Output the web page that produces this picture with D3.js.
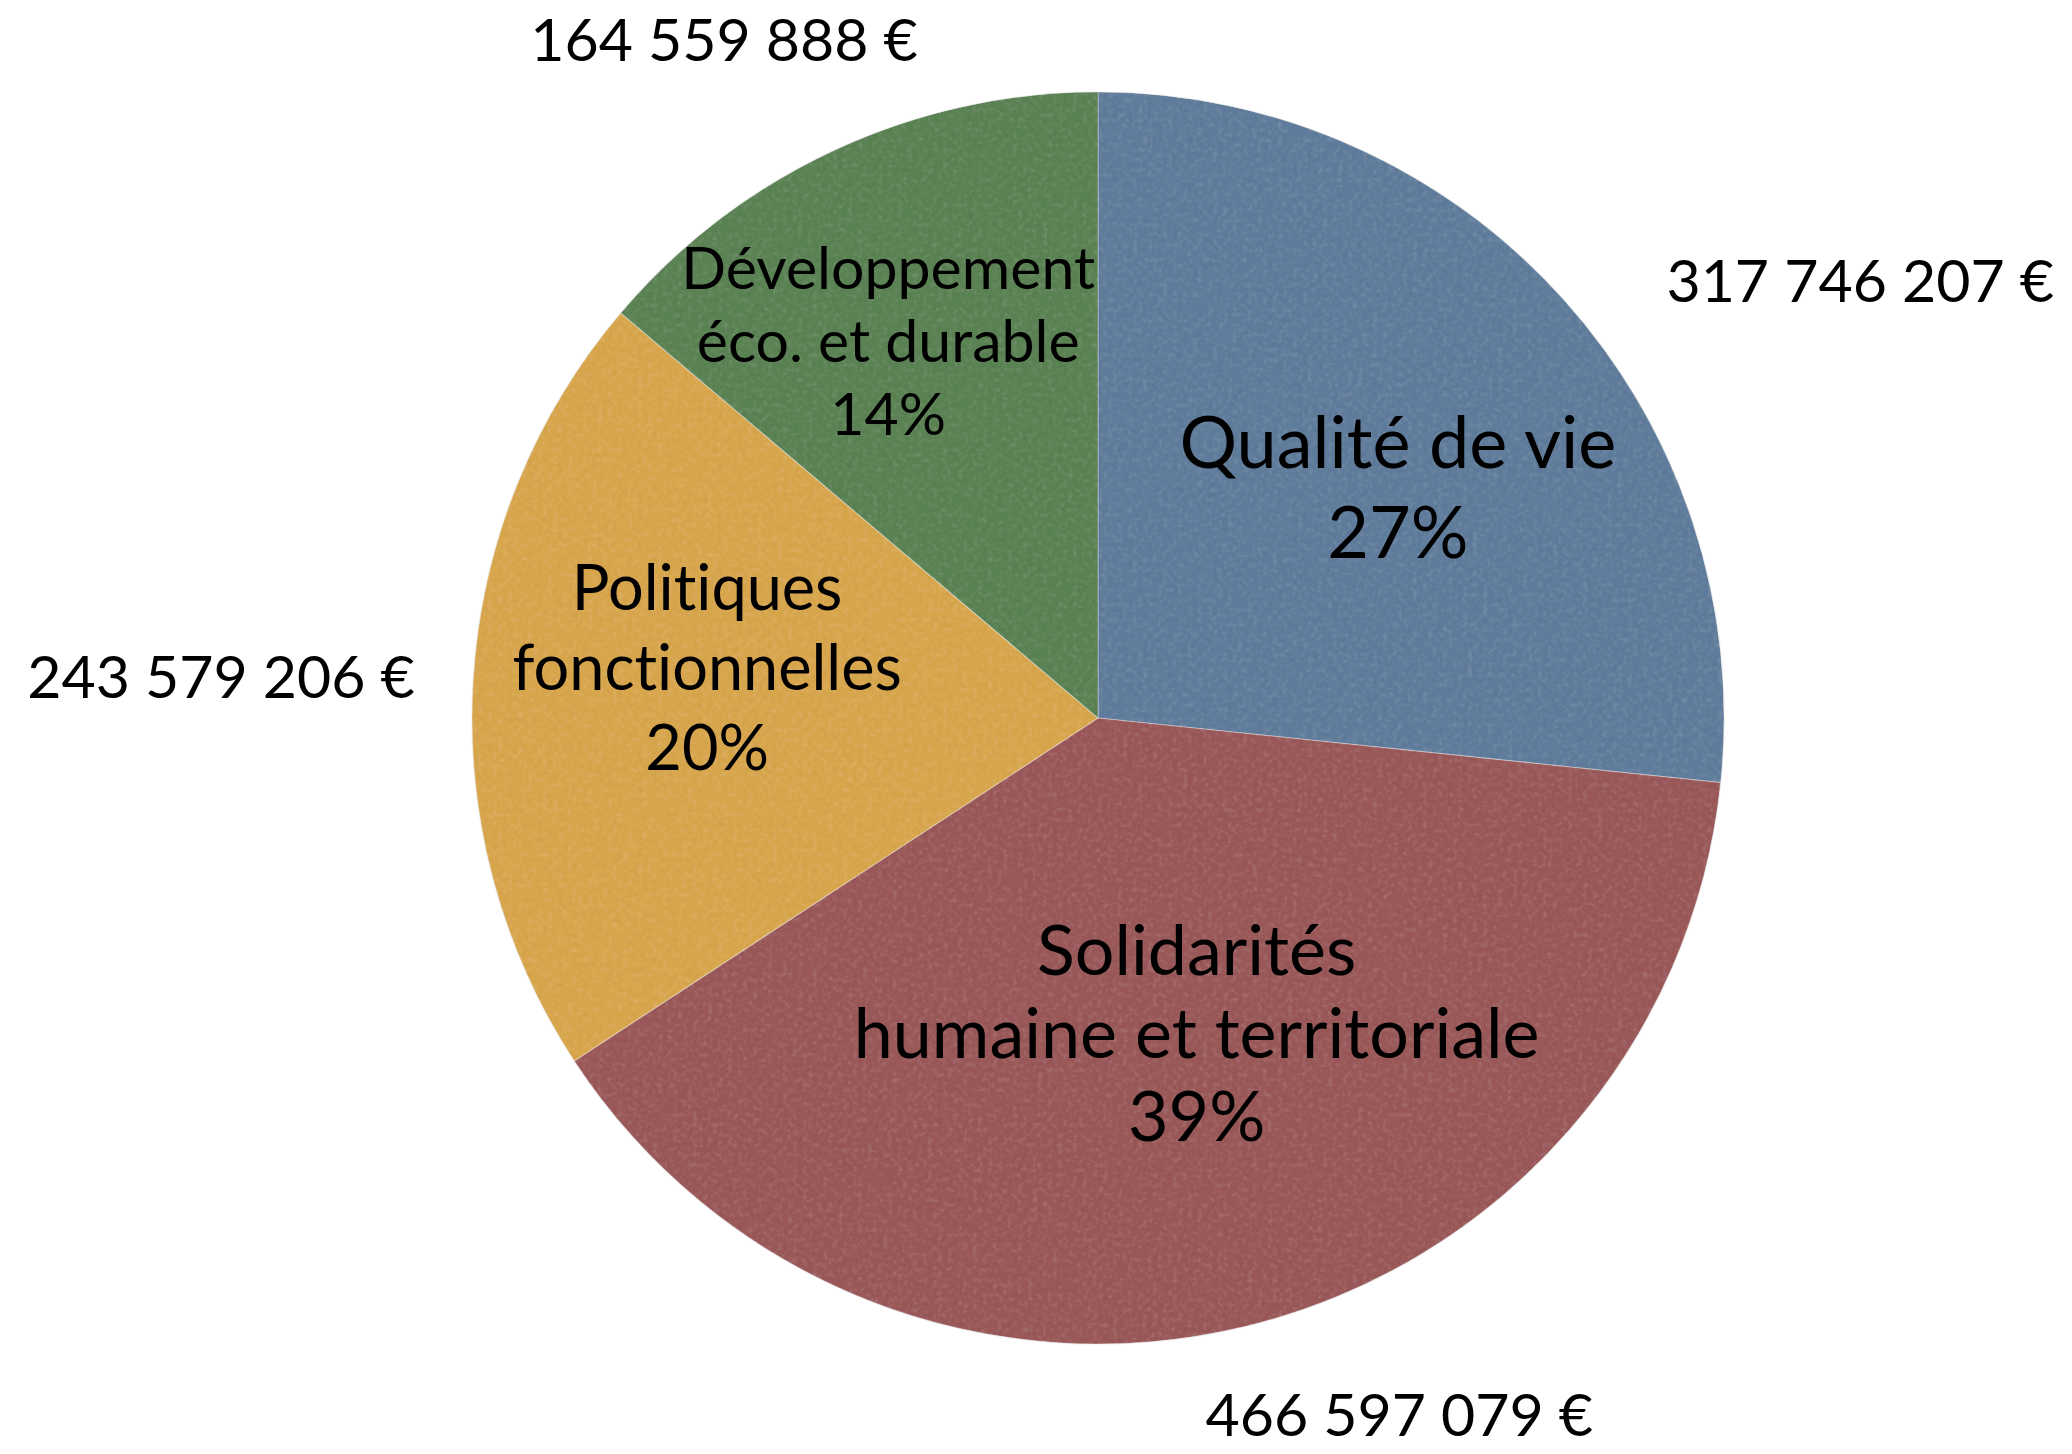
<!DOCTYPE html>
<html>
<head>
<meta charset="utf-8">
<script src="https://cdn.jsdelivr.net/npm/d3@7"></script>
<style>
body { margin: 0; background: #fff; }
text { font-family: Lato, "Open Sans", sans-serif; fill: #000; font-variant-ligatures: none; }
</style>
</head>
<body>
<div class="chart"></div>
<script>
var width = 2072, height = 1454;
var cx = 1098, cy = 718;
var radius = 626;

// data
var categories = ["Qualité de vie", "Solidarités humaine et territoriale", "Politiques fonctionnelles", "Développement éco. et durable"];
var labelLines = [["Qualité de vie"], ["Solidarités", "humaine et territoriale"], ["Politiques", "fonctionnelles"], ["Développement", "éco. et durable"]];
var amounts = [317746207, 466597079, 243579206, 164559888];
var colors = ["#5f7c9c", "#9a5859", "#d8a64c", "#5a8253"];

// label layout (font size, line height, small hand nudges like Keynote does)
var insideSize = [72, 70, 63, 59];
var insideLead = [90, 83, 80, 73];
var insideNudge = [[21, 22], [10, -49], [-16, -26], [-52, -35]];
var outsideSize = 59;
var outsideNudge = [[57, 23], [-55, 27], [4, 1], [109, -54]];

var total = d3.sum(amounts);
var fr = d3.formatLocale({decimal: ",", thousands: " ", grouping: [3], currency: ["", " €"]});
var fmtAmount = fr.format("$,.0f");
var fmtPct = function(v) { return Math.round(v / total * 100) + "%"; };

var svg = d3.select(".chart").append("svg")
	.attr("width", width)
	.attr("height", height);

svg.append("rect").attr("width", width).attr("height", height).attr("fill", "#fff");

// faint paper grain on the slices
var defs = svg.append("defs");
var f = defs.append("filter").attr("id", "paper")
	.attr("x", "-5%").attr("y", "-5%").attr("width", "110%").attr("height", "110%");
f.append("feTurbulence").attr("type", "fractalNoise").attr("baseFrequency", "0.2")
	.attr("numOctaves", 3).attr("seed", 7).attr("result", "noise");
f.append("feColorMatrix").attr("in", "noise").attr("type", "saturate").attr("values", 0).attr("result", "grey");
var ct = f.append("feComponentTransfer").attr("in", "grey").attr("result", "soft");
["feFuncR", "feFuncG", "feFuncB"].forEach(function(k) {
	ct.append(k).attr("type", "linear").attr("slope", 0.12).attr("intercept", 0.44);
});
ct.append("feFuncA").attr("type", "linear").attr("slope", 0).attr("intercept", 1);
f.append("feBlend").attr("in", "SourceGraphic").attr("in2", "soft").attr("mode", "overlay").attr("result", "mix");
f.append("feComposite").attr("in", "mix").attr("in2", "SourceGraphic").attr("operator", "in");

var pie = d3.pie().sort(null).value(function(d) { return d; });
var arcs = pie(amounts);
var arc = d3.arc().innerRadius(0).outerRadius(radius);
var labelArc = d3.arc().innerRadius(radius * 0.6).outerRadius(radius * 0.6);
var outerArc = d3.arc().innerRadius(radius * 1.1).outerRadius(radius * 1.1);

var g = svg.append("g").attr("transform", "translate(" + cx + "," + cy + ")");

g.append("g").attr("filter", "url(#paper)")
	.selectAll("path")
	.data(arcs)
	.enter().append("path")
	.attr("d", arc)
	.attr("fill", function(d, i) { return colors[i]; })
	.attr("stroke", "rgba(255,255,255,0.3)")
	.attr("stroke-width", 1.2);

// labels inside the slices: name lines + percentage
arcs.forEach(function(d, i) {
	var c = labelArc.centroid(d);
	var lines = labelLines[i].concat([fmtPct(amounts[i])]);
	var fs = insideSize[i], lh = insideLead[i];
	var x = c[0] + insideNudge[i][0];
	var yMid = c[1] + insideNudge[i][1];
	var y0 = yMid - (lines.length - 1) * lh / 2 + fs * 0.34;
	var t = g.append("text")
		.attr("text-anchor", "middle")
		.style("font-size", fs + "px");
	lines.forEach(function(s, j) {
		t.append("tspan").attr("x", x).attr("y", y0 + j * lh).text(s);
	});
});

// amounts outside the pie
arcs.forEach(function(d, i) {
	var c = outerArc.centroid(d);
	var mid = (d.startAngle + d.endAngle) / 2;
	var right = Math.sin(mid) > 0;
	g.append("text")
		.attr("x", c[0] + outsideNudge[i][0])
		.attr("y", c[1] + outsideNudge[i][1] + outsideSize * 0.37)
		.attr("text-anchor", right ? "start" : "end")
		.style("font-size", outsideSize + "px")
		.text(fmtAmount(amounts[i]));
});
</script>
</body>
</html>
